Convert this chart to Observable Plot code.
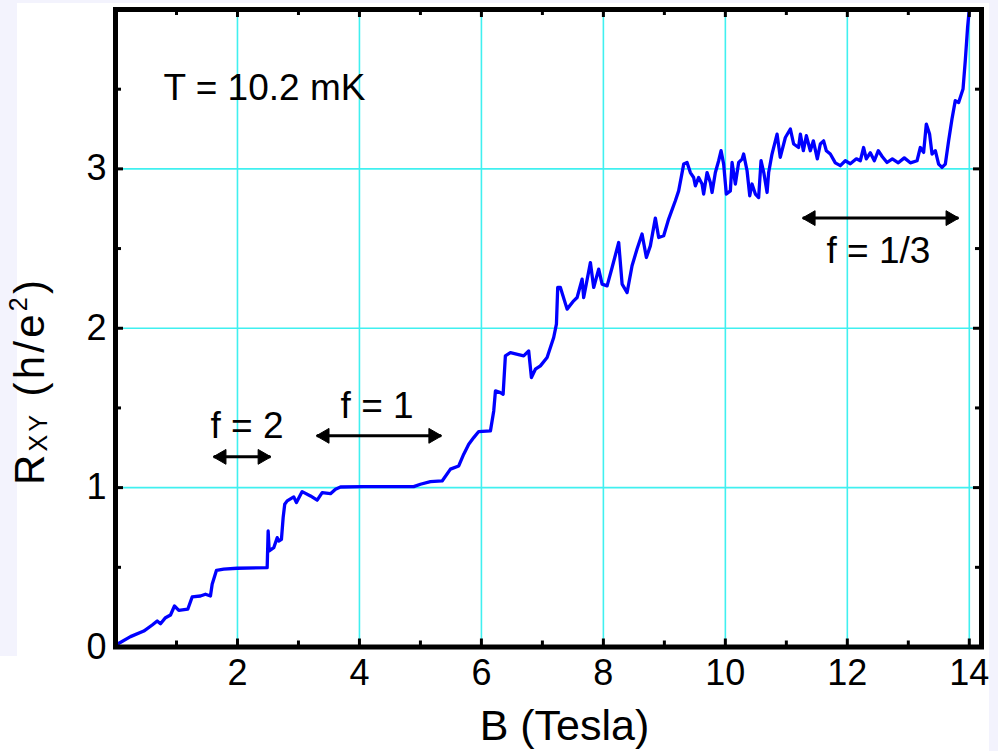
<!DOCTYPE html>
<html><head><meta charset="utf-8">
<script src="https://cdn.jsdelivr.net/npm/d3@7"></script>
<script src="https://cdn.jsdelivr.net/npm/@observablehq/plot@0.6"></script>
<style>
body{margin:0;background:#fff;font-family:"Liberation Sans",Arial,sans-serif}
#wrap{position:relative;width:998px;height:751px;overflow:hidden;background:#fff}
.lav{position:absolute;background:#f3f3fd}
#chart{position:absolute;left:0;top:0}
</style></head><body>
<div id="wrap">
<div class="lav" style="left:0;top:0;width:998px;height:3px"></div>
<div class="lav" style="left:0;top:0;width:17px;height:656px"></div>
<div class="lav" style="left:989px;top:0;width:9px;height:751px"></div>
<div id="chart"></div>
</div>
<script>
// Magnetic field B (Tesla)
const B = [0,0.028,0.246,0.464,0.602,0.684,0.738,0.820,0.902,0.967,1.038,1.185,1.257,1.393,1.475,1.557,1.585,1.656,1.775,1.995,2.487,2.503,2.520,2.595,2.651,2.677,2.721,2.749,2.775,2.815,2.923,2.967,3.061,3.197,3.307,3.389,3.525,3.607,3.689,
4.070,4.890,5.000,5.164,5.356,5.492,5.628,5.710,5.792,5.874,5.956,6.148,6.202,6.230,6.311,6.356,6.393,6.475,6.693,6.775,6.820,6.885,6.967,7.077,7.185,7.230,7.251,7.295,7.405,7.513,7.569,7.651,7.677,7.787,7.841,7.923,7.979,8.061,8.143,8.251,8.307,8.389,8.470,8.552,8.634,8.705,8.770,8.852,8.907,8.989,9.070,9.180,
9.234,9.317,9.372,9.426,9.48,9.508,9.562,9.618,9.644,9.70,9.754,9.782,9.836,9.890,9.93,9.972,10.016,10.082,10.11,10.164,10.218,10.274,10.3,10.356,10.4,10.437,10.492,10.546,10.585,10.63,10.684,10.71,10.765,10.848,10.9,10.984,11.066,11.12,11.2,
11.23,11.279,11.328,11.393,11.443,11.508,11.557,11.611,11.656,11.721,11.803,11.885,11.967,12.049,12.148,12.213,12.267,12.311,12.377,12.443,12.508,12.574,12.651,12.738,12.836,12.934,13.033,13.143,
13.197,13.251,13.295,13.349,13.389,13.443,13.497,13.552,13.607,13.661,13.716,13.770,13.825,13.897,13.934,13.972,14.000];
// Hall resistance R_XY (h/e^2)
const R = [0,0.017,0.065,0.100,0.138,0.163,0.146,0.184,0.201,0.257,0.230,0.237,0.314,0.320,0.331,0.320,0.394,0.481,0.488,0.494,0.498,0.728,0.603,0.623,0.686,0.665,0.676,0.812,0.896,0.917,0.942,0.906,0.975,0.948,0.921,0.969,0.962,0.990,1.004,
1.006,1.006,1.021,1.038,1.042,1.116,1.136,1.210,1.272,1.314,1.352,1.356,1.481,1.607,1.596,1.586,1.827,1.847,1.827,1.858,1.691,1.743,1.764,1.816,1.942,2.026,2.256,2.256,2.120,2.172,2.193,2.308,2.193,2.412,2.256,2.371,2.277,2.266,2.381,2.538,2.277,2.224,2.392,2.497,2.591,2.444,2.517,2.691,2.569,2.580,2.685,2.800,
2.862,3.030,3.040,2.977,2.946,2.894,2.946,2.905,2.842,2.977,2.915,2.852,2.977,3.051,3.114,3.030,2.842,2.862,3.040,2.905,3.040,3.061,3.093,2.988,2.831,2.905,2.842,2.820,3.051,2.977,2.852,2.977,3.093,3.218,3.072,3.197,3.250,3.156,3.134,
3.218,3.114,3.208,3.114,3.176,3.063,3.156,3.176,3.114,3.093,3.038,3.020,3.051,3.032,3.063,3.051,3.134,3.063,3.101,3.051,3.114,3.076,3.040,3.063,3.038,3.069,3.038,3.051,
3.134,3.103,3.281,3.218,3.093,3.114,3.030,3.009,3.030,3.176,3.313,3.428,3.417,3.501,3.679,3.888,4.003];

const xMajor = [2,4,6,8,10,12,14];
const xMinor = [1,3,5,7,9,11,13];
const yMajor = [1,2,3];
const yTickLabels = [0,1,2,3];
const yMinor = [0.5,1.5,2.5,3.5];

// Annotation arrows (filling-factor ranges)
const arrowFrom = [1.61, 3.30, 11.27];
const arrowTo = [2.54, 5.34, 13.82];
const arrowR = [1.193, 1.325, 2.691];
const fLabels = ["f = 2", "f = 1", "f = 1/3"];
const fLabelB = [2.156, 4.29, 12.51];
const fLabelR = [1.384, 1.513, 2.486];
const tempLabel = ["T = 10.2 mK"];
const tempB = [0.787];
const tempR = [3.506];

const curve = B.map((b, i) => ({b, r: R[i]}));
const arrows = arrowFrom.map((a, i) => ({from: a, to: arrowTo[i], r: arrowR[i]}));
const fl = fLabels.map((t, i) => ({t, b: fLabelB[i], r: fLabelR[i]}));
const tl = tempLabel.map((t, i) => ({t, b: tempB[i], r: tempR[i]}));

const W = 998, H = 751, mL = 115, mR = 17, mT = 9, mB = 104.5;
const plotW = W - mL - mR, plotH = H - mT - mB;
const majLen = 8, minLen = 6;
const grid = "#40f0f0";

const chart = Plot.plot({
  width: W, height: H,
  marginLeft: mL, marginRight: mR, marginTop: mT, marginBottom: mB,
  x: {domain: [0, 14.2], label: null},
  y: {domain: [0, 4.0], label: null},
  style: {fontFamily: "'Liberation Sans', Arial, sans-serif", background: "transparent", color: "black", fontSize: "36px"},
  marks: [
    Plot.ruleX(xMajor, {stroke: grid, strokeWidth: 1.6}),
    Plot.ruleY(yMajor, {stroke: grid, strokeWidth: 1.6}),
    Plot.line(curve, {x: "b", y: "r", stroke: "#0000ff", strokeWidth: 3.3, strokeLinejoin: "round"}),
    Plot.frame({stroke: "black", strokeWidth: 5}),
    // inward ticks, bottom & top
    Plot.ruleX(xMajor, {stroke: "black", strokeWidth: 3, insetTop: plotH - majLen}),
    Plot.ruleX(xMinor, {stroke: "black", strokeWidth: 3, insetTop: plotH - minLen}),
    Plot.ruleX(xMajor, {stroke: "black", strokeWidth: 3, insetBottom: plotH - majLen}),
    Plot.ruleX(xMinor, {stroke: "black", strokeWidth: 3, insetBottom: plotH - minLen}),
    // inward ticks, left & right
    Plot.ruleY(yMajor, {stroke: "black", strokeWidth: 3, insetRight: plotW - majLen}),
    Plot.ruleY(yMinor, {stroke: "black", strokeWidth: 3, insetRight: plotW - minLen}),
    Plot.ruleY(yMajor, {stroke: "black", strokeWidth: 3, insetLeft: plotW - majLen}),
    Plot.ruleY(yMinor, {stroke: "black", strokeWidth: 3, insetLeft: plotW - minLen}),
    Plot.axisX(xMajor, {tickSize: 0, tickPadding: 12, fontSize: 36, label: null, tickFormat: d3.format("d")}),
    Plot.axisY(yTickLabels, {tickSize: 0, tickPadding: 9, fontSize: 36, label: null, tickFormat: d3.format("d")}),
    // arrows
    Plot.link(arrows, {x1: "from", x2: "to", y1: "r", y2: "r", stroke: "black", strokeWidth: 3}),
    Plot.dot(arrows, {x: "to", y: "r", symbol: "triangle", rotate: 90, r: 5.5, fill: "black", stroke: "black", strokeWidth: 1, dx: -8}),
    Plot.dot(arrows, {x: "from", y: "r", symbol: "triangle", rotate: -90, r: 5.5, fill: "black", stroke: "black", strokeWidth: 1, dx: 8}),
    Plot.text(fl, {x: "b", y: "r", text: "t", fontSize: 37, fill: "black", lineAnchor: "middle"}),
    Plot.text(tl, {x: "b", y: "r", text: "t", fontSize: 37, fill: "black", textAnchor: "start", lineAnchor: "middle"}),
    Plot.text(["B (Tesla)"], {frameAnchor: "bottom", dy: 92.5, dx: 16, fontSize: 43, fill: "black", lineAnchor: "bottom"})
  ]
});

const svg = d3.select(chart);
const t = svg.append("text")
  .attr("transform", "translate(44,485) rotate(-90)")
  .attr("text-anchor", "start")
  .attr("font-size", 42).attr("fill", "black")
  .attr("font-family", "'Liberation Sans', Arial, sans-serif")
  .attr("textLength", 205).attr("lengthAdjust", "spacing");
t.append("tspan").text("R");
t.append("tspan").attr("font-size", 25).attr("dy", 3).text("XY");
t.append("tspan").attr("dy", -3).text(" (h/e");
t.append("tspan").attr("font-size", 25).attr("dy", -17).text("2");
t.append("tspan").attr("dy", 17).text(")");

document.getElementById("chart").appendChild(chart);
</script>
</body></html>
